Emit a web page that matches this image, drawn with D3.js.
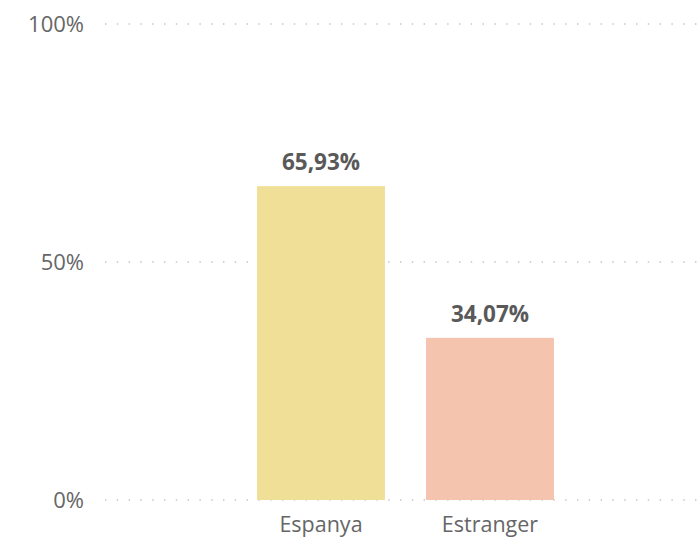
<!DOCTYPE html>
<html><head><meta charset="utf-8">
<script src="https://cdn.jsdelivr.net/npm/d3@7"></script>
<style>body{margin:0;background:#fff}svg{display:block}</style>
</head><body>
<script>
const categories = ["Espanya", "Estranger"];
const values = [65.93, 34.07];
const valueLabels = ["65,93%", "34,07%"];
const colors = ["#F0DF96", "#F4C4AE"];
const yTicks = [0, 50, 100];
const yTickLabels = ["0%", "50%", "100%"];

const W = 697, H = 538;
const svg = d3.select("body").append("svg").attr("width", W).attr("height", H);
const font = "'Open Sans', 'Noto Sans', sans-serif";

const y = d3.scaleLinear().domain([0, 100]).range([500, 24]);
const x = d3.scaleBand().domain(categories).range([236.5, 574.5]).paddingInner(0.243).paddingOuter(0.1215);

// gridlines
svg.append("g").selectAll("line").data(yTicks).join("line")
  .attr("x1", 105).attr("x2", W)
  .attr("y1", d => y(d)).attr("y2", d => y(d))
  .attr("stroke", "#c4c4c4").attr("stroke-width", 1.4)
  .attr("stroke-dasharray", "1.4,10.4");

// y labels
svg.append("g").selectAll("text").data(yTicks).join("text")
  .attr("x", 84).attr("y", d => y(d)).attr("dy", "0.35em")
  .attr("text-anchor", "end").attr("font-family", font).attr("font-size", 22)
  .attr("fill", "#666").text((d, i) => yTickLabels[i]);

// bars
svg.append("g").selectAll("rect").data(categories).join("rect")
  .attr("x", d => x(d)).attr("width", x.bandwidth())
  .attr("y", (d, i) => y(values[i])).attr("height", (d, i) => y(0) - y(values[i]))
  .attr("fill", (d, i) => colors[i]);

// value labels
svg.append("g").selectAll("text").data(categories).join("text")
  .attr("x", d => x(d) + x.bandwidth() / 2)
  .attr("y", (d, i) => y(values[i]) - 16)
  .attr("text-anchor", "middle").attr("font-family", font).attr("font-size", 22.5)
  .attr("font-weight", "bold").attr("fill", "#595959")
  .text((d, i) => valueLabels[i]);

// x labels
svg.append("g").selectAll("text").data(categories).join("text")
  .attr("x", d => x(d) + x.bandwidth() / 2).attr("y", 532)
  .attr("text-anchor", "middle").attr("font-family", font).attr("font-size", 21.5)
  .attr("fill", "#666").text(d => d);
</script>
</body></html>
